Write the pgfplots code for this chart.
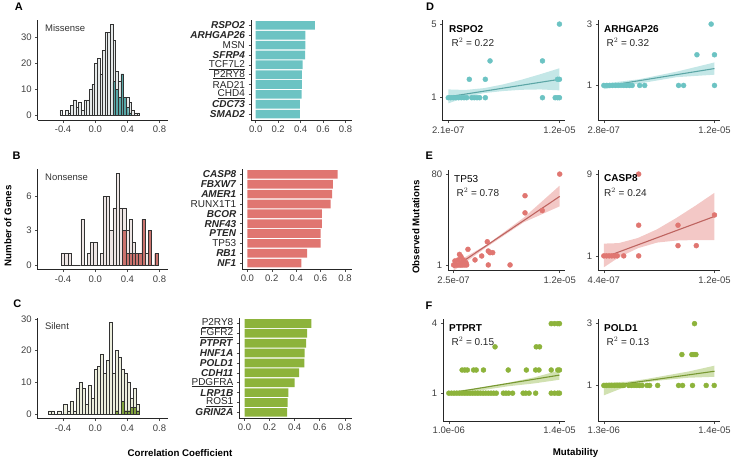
\documentclass[border=0pt]{standalone}
\usepackage{fontspec}
\setmainfont{Liberation Sans}
\usepackage{pgfplots}
\pgfplotsset{compat=1.18}
\definecolor{cteal}{HTML}{6CC3C3}
\definecolor{cred}{HTML}{E07671}
\definecolor{cgreen}{HTML}{8DB33B}
\definecolor{dteal}{HTML}{3F9C9C}
\definecolor{dred}{HTML}{C25550}
\definecolor{dgreen}{HTML}{6F9622}
\definecolor{hA}{HTML}{E6EAEA}
\definecolor{hB}{HTML}{EEE6E5}
\definecolor{hC}{HTML}{ECEEDD}
\pgfplotsset{
  gg/.style={scale only axis, axis lines=left, anchor=south west,
    axis line style={-, line width=0.6pt, black!85},
    tick align=outside, major tick length=2.5pt,
    tick style={line width=0.5pt, black!70},
    ticklabel style={font=\fontsize{9.5}{10}\selectfont, text=black!75},
    /pgf/number format/assume math mode=true},
  hist/.style={gg, xmin=-0.715, xmax=0.905, xtick={-0.4,0,0.4,0.8},
    xticklabels={-0.4,0.0,0.4,0.8}},
  bars/.style={gg, xbar, bar width=0.88, xmin=-0.042, xmax=0.86, ymin=0.4, ymax=10.6,
    xtick={0,0.2,0.4,0.6,0.8}, xticklabels={0.0,0.2,0.4,0.6,0.8}, ytick={1,...,10},
    yticklabel style={font=\fontsize{10}{11}\selectfont, text=black!85}},
  sc/.style={gg},
  pts/.style={only marks, mark=*, mark size=2.5pt},
}
\newcommand{\bi}[1]{\textbf{\textit{#1}}}
\begin{document}
\begin{tikzpicture}
\path[use as bounding box] (0,0) rectangle (731pt,459pt);
% ---------- Histogram A
\begin{axis}[hist, at={(37.7pt,339pt)}, width=130.3pt, height=100pt,
  ymin=-1.75, ymax=36.75, ytick={0,10,20,30}]
\addplot[ybar interval, fill=hA, draw=black!80, line width=0.4pt] coordinates {
(-0.438,2)(-0.405,0)(-0.372,2)(-0.339,1)(-0.306,4)(-0.274,6)(-0.241,3)(-0.208,5)(-0.175,2)(-0.142,6)
(-0.109,6)(-0.076,10)(-0.043,12)(-0.010,20)(0.023,22)(0.056,16)(0.088,25)(0.121,32)(0.154,32)(0.187,35)
(0.220,29)(0.253,17)(0.286,13)(0.319,16)(0.352,7)(0.384,7)(0.417,5)(0.450,2)(0.483,1)(0.516,1)(0.549,0)};
\addplot[ybar interval, fill=dteal, fill opacity=0.85, draw=black!80, line width=0.4pt] coordinates {
(0.220,13)(0.253,10)(0.286,7)(0.319,16)(0.352,7)(0.384,3)(0.417,1)(0.450,0)};
\node[anchor=west, font=\fontsize{9.5}{10}\selectfont, text=black!80] at (rel axis cs:0.03,0.915) {Missense};
\end{axis}
% ---------- Histogram B
\begin{axis}[hist, at={(37.7pt,189.5pt)}, width=130.3pt, height=100.5pt,
  ymin=-0.4, ymax=8.4, ytick={0,3,6}]
\addplot[ybar interval, fill=hB, draw=black!80, line width=0.4pt] coordinates {
(-0.42,1)(-0.38,1)(-0.34,1)(-0.30,0)(-0.26,0)(-0.22,0)(-0.18,4)(-0.14,0)(-0.10,1)(-0.06,2)
(-0.02,2)(0.02,0)(0.06,1)(0.10,6)(0.14,6)(0.18,3)(0.22,5)(0.26,8)(0.30,5)(0.34,5)
(0.38,3)(0.42,4)(0.46,2)(0.50,1)(0.54,1)(0.58,4)(0.62,1)(0.66,3)(0.70,0)(0.74,1)(0.78,0)};
\addplot[ybar interval, fill=dred, fill opacity=0.8, draw=black!80, line width=0.4pt] coordinates {
(0.34,3)(0.38,1)(0.42,1)(0.46,1)(0.50,1)(0.54,1)(0.58,4)(0.62,0)(0.66,3)(0.70,0)(0.74,1)(0.78,0)};
\node[anchor=west, font=\fontsize{9.5}{10}\selectfont, text=black!80] at (rel axis cs:0.03,0.915) {Nonsense};
\end{axis}
% ---------- Histogram C
\begin{axis}[hist, at={(37.7pt,40.5pt)}, width=130.3pt, height=101pt,
  ymin=-1.45, ymax=30.45, ytick={0,10,20,30}]
\addplot[ybar interval, fill=hC, draw=black!80, line width=0.4pt] coordinates {
(-0.580,1)(-0.542,1)(-0.505,0)(-0.467,1)(-0.429,0)(-0.392,3)(-0.354,1)(-0.316,4)(-0.279,1)(-0.241,8)
(-0.203,10)(-0.166,8)(-0.128,3)(-0.090,9)(-0.053,5)(-0.015,14)(0.023,15)(0.060,19)(0.098,13)(0.136,17)
(0.173,29)(0.211,13)(0.249,20)(0.287,18)(0.324,14)(0.362,13)(0.400,10)(0.437,5)(0.475,8)(0.513,3)(0.551,0)};
\addplot[ybar interval, fill=dgreen, fill opacity=0.85, draw=black!80, line width=0.4pt] coordinates {
(0.249,1)(0.287,0)(0.324,4)(0.362,1)(0.400,1)(0.437,2)(0.475,2)(0.513,1)(0.551,0)};
\node[anchor=west, font=\fontsize{9.5}{10}\selectfont, text=black!80] at (rel axis cs:0.03,0.915) {Silent};
\end{axis}
% ---------- Bars A
\begin{axis}[bars, at={(251pt,339pt)}, width=101.3pt, height=100.5pt,
  yticklabels={\bi{SMAD2},\bi{CDC73},\underline{CHD4},RAD21,\underline{P2RY8},\underline{TCF7L2},\bi{SFRP4},MSN,\bi{ARHGAP26},\bi{RSPO2}}]
\addplot[fill=cteal, draw=none] coordinates {(0.394,1)(0.394,2)(0.409,3)(0.412,4)(0.412,5)(0.418,6)(0.44,7)(0.442,8)(0.442,9)(0.526,10)};
\end{axis}
% ---------- Bars B
\begin{axis}[bars, at={(242.3pt,190pt)}, width=110pt, height=100.5pt,
  yticklabels={\bi{NF1},\bi{RB1},TP53,\bi{PTEN},\bi{RNF43},\bi{BCOR},RUNX1T1,\bi{AMER1},\bi{FBXW7},\bi{CASP8}}]
\addplot[fill=cred, draw=none] coordinates {(0.443,1)(0.49,2)(0.60,3)(0.60,4)(0.61,5)(0.61,6)(0.683,7)(0.694,8)(0.70,9)(0.74,10)};
\end{axis}
% ---------- Bars C
\begin{axis}[bars, at={(239.3pt,40.7pt)}, width=113pt, height=100.8pt,
  yticklabels={\bi{GRIN2A},\underline{ROS1},\bi{LRP1B},\underline{PDGFRA},\bi{CDH11},\bi{POLD1},\bi{HNF1A},\bi{PTPRT},\underline{FGFR2},\underline{P2RY8}}]
\addplot[fill=cgreen, draw=none] coordinates {(0.339,1)(0.344,2)(0.35,3)(0.40,4)(0.435,5)(0.477,6)(0.479,7)(0.492,8)(0.50,9)(0.534,10)};
\end{axis}
% ---------- D left RSPO2
\begin{axis}[sc, at={(442.7pt,338.3pt)}, width=122.3pt, height=101.2pt,
  xmin=-0.38, xmax=12.59, ymin=-0.25, ymax=5.25, xtick={0.21,12}, xticklabels={2.1e-07,1.2e-05}, ytick={1,5}, yticklabels={1,5}]
\addplot[pts, cteal] coordinates {
(0.21,1)(0.46,1)(0.74,1)(1.03,1)(1.31,1)(1.59,1)(1.88,1)(2.16,1)(2.70,1)(2.97,1)(3.26,1)(3.54,1)(4.14,1)(10.2,1)(11.55,1)(11.8,1)(12,1)
(2.44,2)(4.14,2)(11.8,2)(12,2)(4.64,3)(10.2,3)(12,5)};
\addplot[fill=cteal, fill opacity=0.4, draw=none] coordinates {
(0.21,1.45)(2,1.42)(4,1.52)(6,1.72)(8,1.98)(10,2.28)(12,2.6)(12,1.4)(10,1.45)(8,1.43)(6,1.36)(4,1.25)(2,1.02)(0.21,0.69)} -- cycle;
\addplot[cteal!85!black, line width=1.1pt] coordinates {(0.21,1.05)(12,2.0)};
\end{axis}
\node[anchor=west, font=\bfseries\fontsize{10}{11}\selectfont] at (445.7pt,430pt) {RSPO2};
\node[anchor=west, font=\fontsize{10}{11}\selectfont, text=black!85] at (448pt,416.8pt) {R$^2$ = 0.22};
% ---------- D right ARHGAP26
\begin{axis}[sc, at={(598.3pt,338.3pt)}, width=121.7pt, height=101.2pt,
  xmin=-0.306, xmax=12.586, ymin=-0.15, ymax=3.15, xtick={0.28,12}, xticklabels={2.8e-07,1.2e-05}, ytick={1,3}, yticklabels={1,3}]
\addplot[pts, cteal] coordinates {
(0.28,1)(0.6,1)(0.9,1)(1.2,1)(1.5,1)(1.8,1)(2.1,1)(2.4,1)(2.7,1)(3.0,1)(3.28,1)(4.08,1)(4.61,1)(8.2,1)(8.73,1)(12,1)
(10.14,2)(12,2)(11.65,3)};
\addplot[fill=cteal, fill opacity=0.4, draw=none] coordinates {
(0.28,1.06)(4,1.2)(8,1.45)(12,1.75)(12,1.35)(8,1.27)(4,1.06)(0.28,0.88)} -- cycle;
\addplot[cteal!85!black, line width=1.1pt] coordinates {(0.28,0.97)(12,1.55)};
\end{axis}
\node[anchor=west, font=\bfseries\fontsize{10}{11}\selectfont] at (600.7pt,430pt) {ARHGAP26};
\node[anchor=west, font=\fontsize{10}{11}\selectfont, text=black!85] at (603pt,416.8pt) {R$^2$ = 0.32};
% ---------- E left TP53
\begin{axis}[sc, at={(448.3pt,188.3pt)}, width=116.7pt, height=101.2pt,
  xmin=-0.3375, xmax=12.5875, ymin=-4, ymax=84, xtick={0.25,12}, xticklabels={2.5e-07,1.2e-05}, ytick={1,80}, yticklabels={1,80}]
\addplot[pts, cred] coordinates {
(0.25,1)(0.4,1)(0.55,1)(0.7,1)(0.85,1)(1.0,1)(1.15,1)(1.3,1)(1.5,1)(1.7,1)(0.4,4.5)(0.77,5.4)(1.07,8.2)(1.32,5.4)(1.62,3)
(1.84,14.6)(0.9,10.2)(1.2,3)(2.62,5.4)(3.36,8.8)(3.98,21.2)(4.09,13.1)(4.28,11.7)(4.58,11.7)(4.09,1)(6.5,1)(8.16,61.2)(8.16,46.3)(10.07,48.3)(12,80)};
\addplot[fill=cred, fill opacity=0.4, draw=none] coordinates {
(0.25,2)(4,19)(8,42)(12,70)(12,52)(8,38)(4,17)(0.25,-4)} -- cycle;
\addplot[cred!85!black, line width=1.1pt] coordinates {(0.25,-1.3)(12,60.6)};
\end{axis}
\node[anchor=west, font=\fontsize{10}{11}\selectfont] at (450.7pt,279.7pt) {TP53};
\node[anchor=west, font=\fontsize{10}{11}\selectfont, text=black!85] at (453pt,267pt) {R$^2$ = 0.78};
% ---------- E right CASP8
\begin{axis}[sc, at={(598.3pt,188.3pt)}, width=121.7pt, height=101.2pt,
  xmin=-0.138, xmax=12.578, ymin=-0.45, ymax=9.45, xtick={0.44,12}, xticklabels={4.4e-07,1.2e-05}, ytick={1,9}, yticklabels={1,9}]
\addplot[pts, cred] coordinates {
(0.44,1)(0.72,1)(1.0,1)(1.27,1)(1.55,1)(1.84,1)(2.52,1)(4.08,1)(4.08,9)(4.08,4)(8.19,4)(8.19,2)(10.1,2)(12,5)};
\addplot[fill=cred, fill opacity=0.4, draw=none] coordinates {
(0.44,2.2)(2,2.25)(4,2.75)(6,3.6)(8,4.7)(10,5.9)(12,7.17)(12,2.55)(10,2.55)(8,2.5)(6,2.3)(4,1.75)(2,0.85)(0.44,-0.12)} -- cycle;
\addplot[cred!85!black, line width=1.1pt] coordinates {(0.44,0.84)(12,4.86)};
\end{axis}
\node[anchor=west, font=\bfseries\fontsize{10}{11}\selectfont] at (600.7pt,280.7pt) {CASP8};
\node[anchor=west, font=\fontsize{10}{11}\selectfont, text=black!85] at (600.7pt,267pt) {R$^2$ = 0.24};
% ---------- F left PTPRT
\begin{axis}[sc, at={(443.3pt,38pt)}, width=121.7pt, height=102pt,
  xmin=0.35, xmax=14.65, ymin=-0.2, ymax=4.2, xtick={1,14}, xticklabels={1.0e-06,1.4e-05}, ytick={1,4}, yticklabels={1,4}]
\addplot[pts, cgreen] coordinates {
(1.0,1)(1.31,1)(1.62,1)(1.93,1)(2.24,1)(2.55,1)(2.86,1)(3.17,1)(3.48,1)(3.79,1)(4.10,1)(4.41,1)(4.72,1)(5.03,1)(5.34,1)(5.65,1)(5.96,1)(6.27,1)(6.58,1)
(7.41,1)(7.71,1)(8.02,1)(8.49,1)(9.73,1)(10.04,1)(10.43,1)(11.2,1)(13.03,1)(13.42,1)(13.8,1)(14,1)
(2.56,2)(2.87,2)(3.17,2)(3.91,2)(4.22,2)(5.07,2)(7.98,2)(10.11,2)(11.2,2)(11.59,2)(13.03,2)(13.8,2)(14,2)
(6.43,3)(11.27,3)(11.66,3)(13.03,4)(13.42,4)(13.8,4)(14,4)};
\addplot[fill=cgreen, fill opacity=0.4, draw=none] coordinates {
(1,1.06)(4,1.2)(8,1.45)(11,1.68)(14,1.98)(14,1.58)(11,1.42)(8,1.3)(4,1.08)(1,0.94)} -- cycle;
\addplot[cgreen!85!black, line width=1.1pt] coordinates {(1,1.0)(14,1.78)};
\end{axis}
\node[anchor=west, font=\bfseries\fontsize{10}{11}\selectfont] at (445.7pt,131.3pt) {PTPRT};
\node[anchor=west, font=\fontsize{10}{11}\selectfont, text=black!85] at (448pt,118pt) {R$^2$ = 0.15};
% ---------- F right POLD1
\begin{axis}[sc, at={(598.3pt,38pt)}, width=121.7pt, height=102pt,
  xmin=0.665, xmax=14.635, ymin=-0.15, ymax=3.15, xtick={1.3,14}, xticklabels={1.3e-06,1.4e-05}, ytick={1,3}, yticklabels={1,3}]
\addplot[pts, cgreen] coordinates {
(1.3,1)(1.6,1)(1.9,1)(2.21,1)(2.51,1)(2.82,1)(3.12,1)(3.43,1)(3.59,1)(4.16,1)(4.47,1)(4.77,1)(5.08,1)(5.39,1)(5.69,1)(6.26,1)(6.56,1)(7.48,1)
(9.88,1)(10.34,1)(11.48,1)(13.05,1)(13.97,1)(10.26,2)(11.41,2)(11.64,2)(11.87,2)(11.71,3)};
\addplot[fill=cgreen, fill opacity=0.4, draw=none] coordinates {
(1.3,1.09)(4,1.12)(6,1.2)(8,1.3)(11,1.45)(14,1.64)(14,1.28)(11,1.25)(8,1.17)(6,1.1)(4,0.98)(1.3,0.68)} -- cycle;
\addplot[cgreen!85!black, line width=1.1pt] coordinates {(1.3,0.96)(14,1.46)};
\end{axis}
\node[anchor=west, font=\bfseries\fontsize{10}{11}\selectfont] at (600.7pt,131.3pt) {POLD1};
\node[anchor=west, font=\fontsize{10}{11}\selectfont, text=black!85] at (603pt,118pt) {R$^2$ = 0.13};
% ---------- panel letters and titles
\foreach \l/\x/\y in {A/18.8/452.7, B/16.7/303.7, C/17.3/155.7, D/430/452.7, E/429.3/303, F/429/153} {
  \node[font=\bfseries\fontsize{11}{12}\selectfont] at (\x pt,\y pt) {\l};
}
\node[rotate=90, font=\bfseries\fontsize{9.7}{11}\selectfont] at (8pt,233pt) {Number of Genes};
\node[rotate=90, font=\bfseries\fontsize{9.7}{11}\selectfont] at (416pt,232pt) {Observed Mutations};
\node[font=\bfseries\fontsize{9.7}{11}\selectfont] at (180pt,6pt) {Correlation Coefficient};
\node[font=\bfseries\fontsize{9.7}{11}\selectfont] at (575.5pt,6pt) {Mutability};
\end{tikzpicture}
\end{document}
